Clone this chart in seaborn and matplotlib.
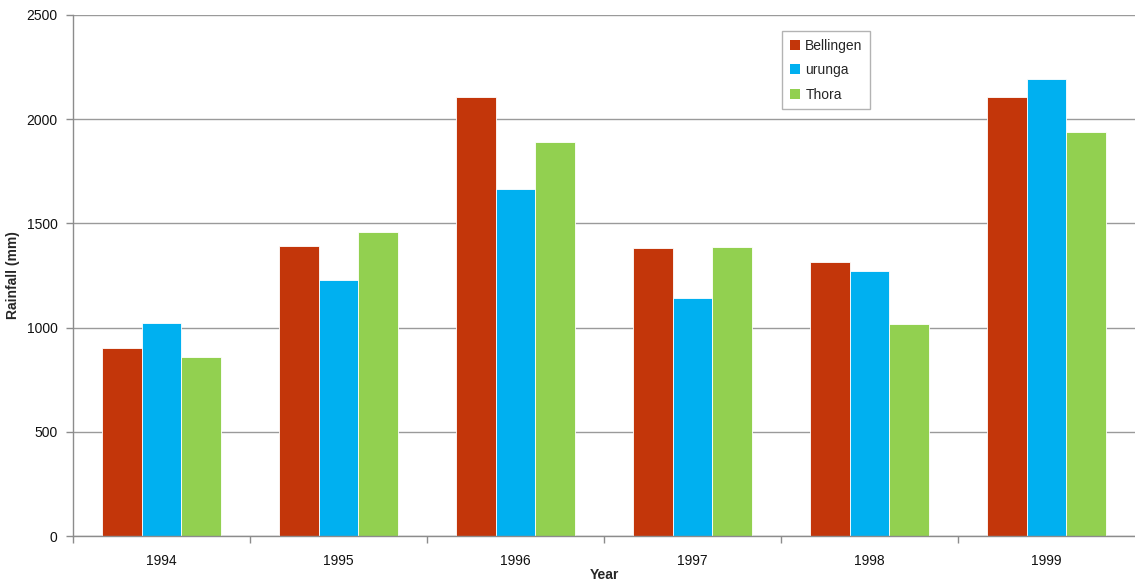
import matplotlib
matplotlib.use("Agg")
import matplotlib.pyplot as plt
from matplotlib.ticker import FixedLocator
import seaborn as sns
import pandas as pd

years = ["1994", "1995", "1996", "1997", "1998", "1999"]
bellingen = [900, 1390, 2105, 1380, 1315, 2105]
urunga = [1020, 1230, 1665, 1140, 1270, 2195]
thora = [860, 1460, 1890, 1385, 1015, 1940]
stations = ["Bellingen", "urunga", "Thora"]
colors = ["#C3360A", "#00B0F0", "#92D050"]

rows = []
for name, vals in zip(stations, [bellingen, urunga, thora]):
    for y, v in zip(years, vals):
        rows.append({"Year": y, "Station": name, "Rainfall": v})
df = pd.DataFrame(rows)

sns.set_theme(style="white")
plt.rcParams["font.family"] = ["Liberation Sans", "DejaVu Sans"]

W, H = 1135, 585
fig = plt.figure(figsize=(W / 100, H / 100), dpi=100)
ax = fig.add_axes([73 / W, (H - 536) / H, (W - 73) / W, (536 - 15) / H])

sns.barplot(data=df, x="Year", y="Rainfall", hue="Station", order=years,
            hue_order=stations, palette=colors, width=0.67, gap=0,
            saturation=1, edgecolor="white", linewidth=0.6, ax=ax, legend=False)

ax.set_ylim(0, 2500)
ax.set_xlim(-0.5, len(years) - 0.5)
ax.set_yticks(range(0, 2501, 500))
ax.yaxis.grid(True, color="#9a9a9a", linewidth=1.0)
ax.set_axisbelow(True)

for side in ["top", "right"]:
    ax.spines[side].set_visible(False)
for side in ["left", "bottom"]:
    ax.spines[side].set_color("#8c8c8c")
    ax.spines[side].set_linewidth(1.0)

fs = 10
ax.tick_params(axis="y", which="major", left=True, length=5, width=1,
               color="#8c8c8c", labelsize=fs, pad=6, labelcolor="#111111")
ax.tick_params(axis="x", which="major", length=0, labelsize=fs, pad=13,
               labelcolor="#111111")
ax.xaxis.set_minor_locator(FixedLocator([i + 0.5 for i in range(len(years) - 1)] + [-0.5]))
ax.tick_params(axis="x", which="minor", bottom=True, length=5, width=1,
               color="#8c8c8c")

ax.set_xlabel("Year", fontsize=fs, fontweight="bold", labelpad=0)
ax.set_ylabel("Rainfall (mm)", fontsize=fs, fontweight="bold", labelpad=5)

handles = [plt.Rectangle((0, 0), 1, 1, facecolor=c, edgecolor="none") for c in colors]
leg = ax.legend(handles, stations, loc="upper left", bbox_to_anchor=(0.668, 0.969),
                frameon=True, fancybox=False, edgecolor="#a0a0a0", fontsize=fs,
                handlelength=0.7, handleheight=0.7, handletextpad=0.4,
                labelspacing=0.75, borderpad=0.55, borderaxespad=0)
leg.get_frame().set_linewidth(1.0)

fig.savefig("out.png", dpi=100)
